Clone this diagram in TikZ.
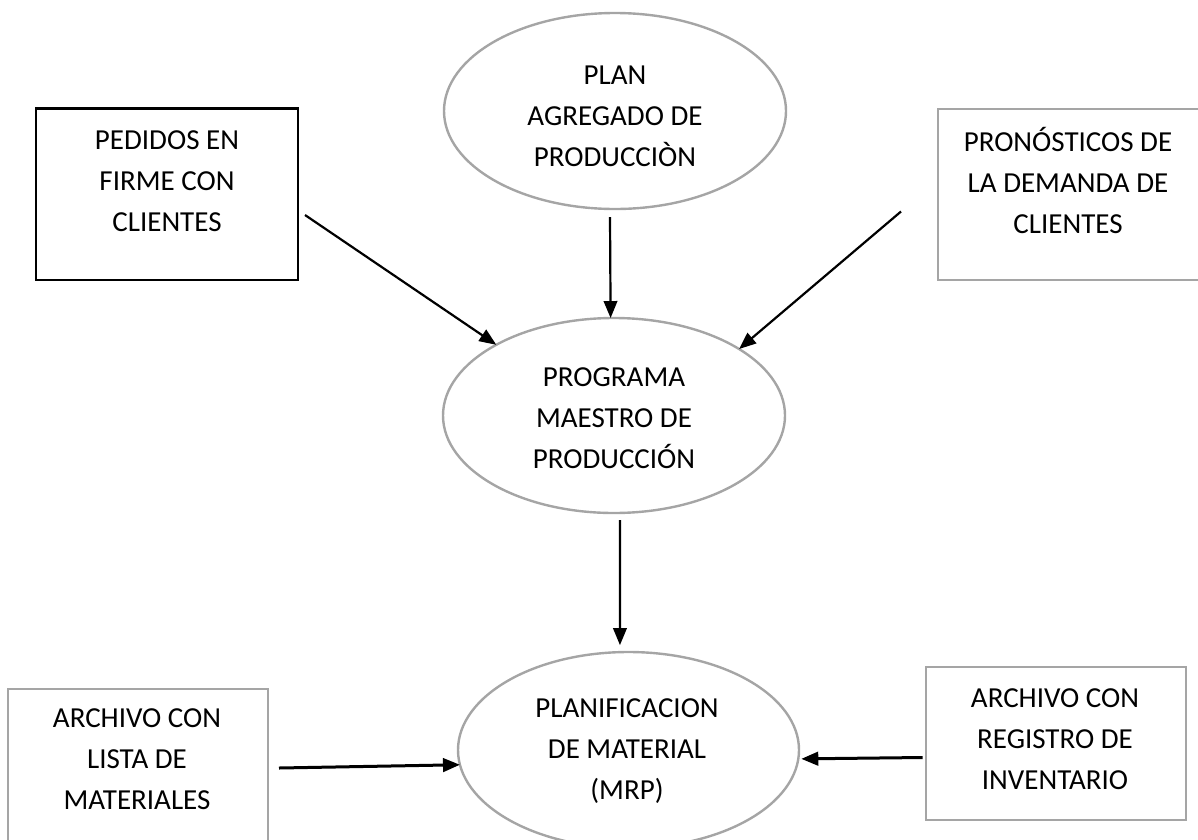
\documentclass[tikz,border=0pt]{standalone}
\usepackage{fontspec}
\setmainfont{Carlito}
\usetikzlibrary{shapes.geometric,arrows.meta}
\definecolor{boxgray}{HTML}{A5A5A5}

\begin{document}
\begin{tikzpicture}[x=1pt,y=-1pt,
  every node/.style={inner sep=0pt, outer sep=0pt},
  caption/.style={align=center, font=\fontsize{29}{41}\selectfont},
  graybox/.style={rectangle, draw=boxgray, line width=2.4pt},
  blackbox/.style={rectangle, draw=black, line width=2.8pt},
  bubble/.style={ellipse, draw=boxgray, line width=2.4pt},
  flow/.style={draw=black, line width=2.2pt, -{Triangle[length=17pt,width=13.5pt]}},
  heavyflow/.style={flow, line width=3pt},
]
\useasboundingbox (0,0) rectangle (1198,839);

% input boxes
\node[blackbox, minimum width=262pt, minimum height=171.5pt] (pedidos) at (167,194.25) {};
\node[graybox, minimum width=272pt, minimum height=171pt] (pronos) at (1074,194.5) {};
\node[graybox, minimum width=260pt, minimum height=171pt] (lista) at (138,774.5) {};
\node[graybox, minimum width=260pt, minimum height=153pt] (registro) at (1056,743.5) {};

% process bubbles
\node[bubble, minimum width=342pt, minimum height=196pt] (plan) at (615,111) {};
\node[bubble, minimum width=342pt, minimum height=195pt] (mps) at (614,415.5) {};
\node[bubble, minimum width=341pt, minimum height=196pt] (mrp) at (628.5,750) {};

% captions
\node[caption] (pedidos-t) at (167,181) {PEDIDOS EN\\FIRME CON\\CLIENTES};
\node[caption] (pronos-t) at (1068,180) {PRONÓSTICOS DE\\LA DEMANDA DE\\CLIENTES};
\node[caption] (lista-t) at (137,759) {ARCHIVO CON\\LISTA DE\\MATERIALES};
\node[caption] (registro-t) at (1055,739) {ARCHIVO CON\\REGISTRO DE\\INVENTARIO};
\node[caption] (plan-t) at (615,116) {PLAN\\AGREGADO DE\\PRODUCCIÒN};
\node[caption] (mps-t) at (614,418) {PROGRAMA\\MAESTRO DE\\PRODUCCIÓN};
\node[caption] (mrp-t) at (627,751.5) {PLANIFICACION\\DE MATERIAL\\(MRP)};

% arrow starts
\coordinate (from-pedidos) at (305,215);
\coordinate (from-plan) at (610,217);
\coordinate (from-pronos) at (901,211.5);
\coordinate (from-mps) at (620,520);
\coordinate (from-lista) at (279,768);
\coordinate (from-registro) at (922.7,757.5);

% flows
\draw[flow] (from-pedidos) -- (mps.149.7);
\draw[flow] (from-plan) -- (mps.92.3);
\draw[flow] (from-pronos) -- (mps.28);
\draw[flow, shorten >=7pt] (from-mps) -- (mrp.95);
\draw[heavyflow] (from-lista) -- (mrp.185.7);
\draw[heavyflow, shorten >=3pt] (from-registro) -- (mrp.357.3);
\end{tikzpicture}
\end{document}
